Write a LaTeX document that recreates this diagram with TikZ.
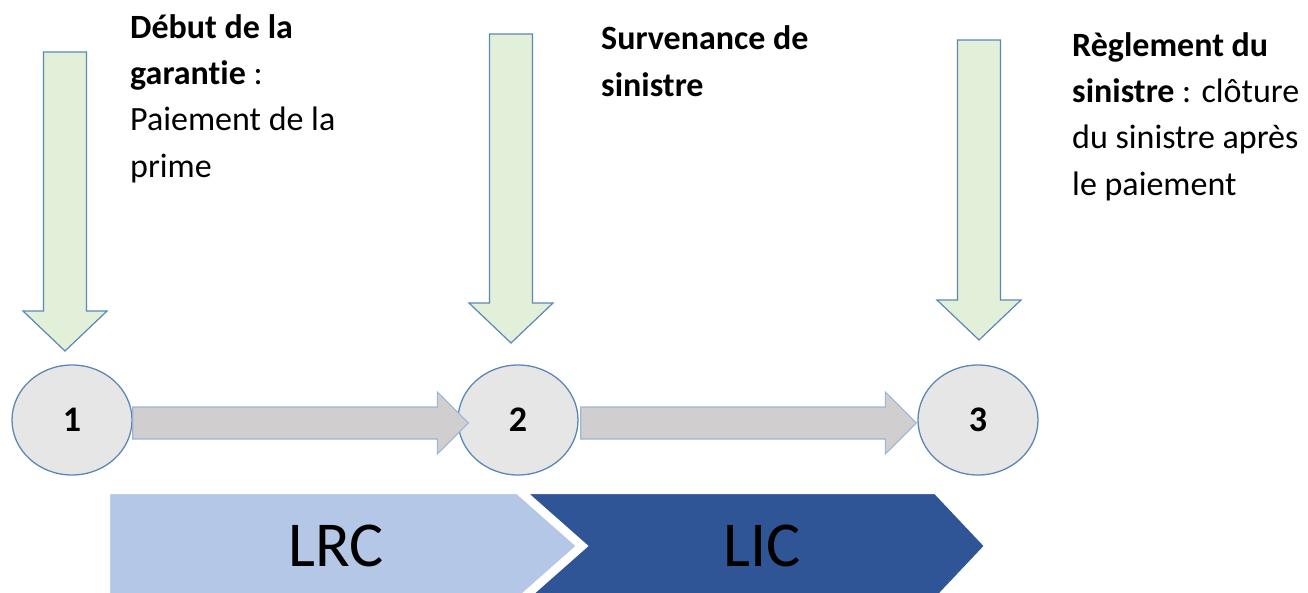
\documentclass[tikz,border=0pt]{standalone}
\usepackage{fontspec}
\setmainfont{Carlito}[Ligatures=NoCommon]
\usetikzlibrary{positioning,calc,shapes.geometric}

\definecolor{vertclair}{HTML}{E2F0D9}
\definecolor{contour}{HTML}{5B87B5}
\definecolor{grisclair}{HTML}{E7E6E6}
\definecolor{grisfleche}{HTML}{D0CECE}
\definecolor{contourgris}{HTML}{9DB5D6}
\definecolor{bleuclair}{HTML}{B4C7E7}
\definecolor{bleufonce}{HTML}{2F5597}

\tikzset{
  etape/.style={ellipse, draw=contour, fill=grisclair, line width=1.3pt,
    minimum width=120pt, minimum height=110pt, inner sep=0pt,
    font=\bfseries\fontsize{36}{36}\selectfont},
  fleche verte/.style={draw=contour, fill=vertclair, line width=1.2pt,
    to path={($(\tikztostart)+(-21.5,0)$) -- ($(\tikztotarget)+(-21.5,-40)$)
      -- ($(\tikztotarget)+(-42,-40)$) -- (\tikztotarget)
      -- ($(\tikztotarget)+(42,-40)$) -- ($(\tikztotarget)+(21.5,-40)$)
      -- ($(\tikztostart)+(21.5,0)$) -- cycle}},
  fleche grise/.style={draw=contourgris, fill=grisfleche, line width=1.2pt,
    to path={($(\tikztostart)+(0,-16)$) -- ($(\tikztotarget)+(-31,-16)$)
      -- ($(\tikztotarget)+(-31,-31)$) -- (\tikztotarget)
      -- ($(\tikztotarget)+(-31,31)$) -- ($(\tikztotarget)+(-31,16)$)
      -- ($(\tikztostart)+(0,16)$) -- cycle}},
  % ancre sur la ligne de base de la derniere ligne
  legende/.style={anchor=base west, align=left, inner sep=0pt,
    font=\fontsize{34}{46.3}\selectfont},
  phase/.style={font=\fontsize{64}{64}\selectfont}
}

\begin{document}
\begin{tikzpicture}[x=1pt,y=-1pt,node distance=446pt,on grid]
  \useasboundingbox (0,0) rectangle (1308,592);
  % bandeau LRC / LIC
  \draw[fill=bleuclair, draw=white, line width=2pt]
    (109,493) -- (517,493) -- (577,546) -- (517,599) -- (109,599) -- cycle;
  \draw[fill=bleufonce, draw=white, line width=2pt]
    (527,493) -- (935,493) -- (985,546) -- (935,599) -- (527,599) -- (587,546) -- cycle;
  \node[phase] (lrc) at (336,546) {LRC};
  \node[phase] (lic) at (762,546) {LIC};

  % etapes
  \node[etape] (c1) at (72,420) {1};
  \node[etape] (c2) [right=446pt of c1] {2};
  \node[etape] (c3) [right=460pt of c2] {3};

  \draw[fleche grise] ([yshift=-3pt]c1.east) to ([xshift=11pt,yshift=-3pt]c2.west);
  \draw[fleche grise] ([xshift=2pt,yshift=-3pt]c2.east) to ([xshift=-1pt,yshift=-3pt]c3.west);

  % fleches vertes
  \coordinate (h1) at (65,52);  \coordinate (p1) at (65,351);
  \coordinate (h2) at (511,34); \coordinate (p2) at (511,343);
  \coordinate (h3) at (979,40); \coordinate (p3) at (979,340);
  \draw[fleche verte] (h1) to (p1);
  \draw[fleche verte] (h2) to (p2);
  \draw[fleche verte] (h3) to (p3);

  % textes
  \node[legende] (t1) at (130,177) {\textbf{Début de la}\\\textbf{garantie} :\\Paiement de la\\prime};
  \node[legende] (t2) at (601,96) {\textbf{Survenance de}\\\textbf{sinistre}};
  \node[legende] (t3) at (1072,195) {\textbf{Règlement du}\\\textbf{sinistre} : clôture\\du sinistre après\\le paiement};
\end{tikzpicture}
\end{document}
